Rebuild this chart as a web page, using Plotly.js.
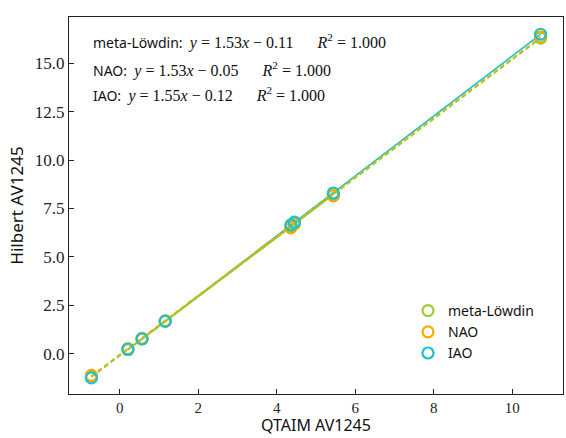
<!DOCTYPE html>
<html><head><meta charset="utf-8">
<script src="https://cdn.plot.ly/plotly-3.0.1.min.js"></script>
<style>html,body{margin:0;padding:0;background:#fff}#chart{width:566px;height:438px}</style>
</head><body><div id="chart"></div>
<script>
// Data
const qtaim = [-0.72, 0.21, 0.57, 1.16, 4.36, 4.45, 5.44, 10.72];
const metaLowdin = [-1.21, 0.22, 0.76, 1.67, 6.55, 6.71, 8.22, 16.30];
const nao        = [-1.12, 0.26, 0.80, 1.70, 6.50, 6.74, 8.15, 16.36];
const iao        = [-1.25, 0.22, 0.77, 1.68, 6.65, 6.80, 8.30, 16.50];
const seriesNames = ['meta-Löwdin', 'NAO', 'IAO'];
const fits = {ml: [1.53, -0.11], nao: [1.53, -0.05], iao: [1.55, -0.12]};
const r2 = ['1.000', '1.000', '1.000'];
const xTicks = [0, 2, 4, 6, 8, 10];
const yTicks = [0, 2.5, 5, 7.5, 10, 12.5, 15];

const cML = '#9acd32', cNAO = '#ffa500', cIAO = '#1cc3c8';
const xMin = Math.min(...qtaim), xMax = Math.max(...qtaim);
const inner = qtaim.slice(1, 7);
function fitLine(f, xs) { return xs.map(x => f[0] * x + f[1]); }

const traces = [
  {x: [qtaim[1], xMax], y: fitLine(fits.iao, [qtaim[1], xMax]), mode: 'lines', line: {color: cIAO, width: 1.6}, showlegend: false, hoverinfo: 'skip'},
  {x: inner, y: metaLowdin.slice(1, 7), mode: 'lines', line: {color: cNAO, width: 1.6}, showlegend: false, hoverinfo: 'skip'},
  {x: inner, y: fitLine(fits.ml, inner), mode: 'lines', line: {color: cML, width: 1.6}, showlegend: false, hoverinfo: 'skip'},
  {x: [xMin, xMax], y: fitLine(fits.nao, [xMin, xMax]), mode: 'lines', line: {color: cNAO, width: 1.6, dash: '5px,3px'}, showlegend: false, hoverinfo: 'skip'},
  {x: [xMin, xMax], y: fitLine(fits.ml, [xMin, xMax]), mode: 'lines', line: {color: cML, width: 1.6, dash: '5px,3px'}, showlegend: false, hoverinfo: 'skip'},
  {x: qtaim, y: metaLowdin, name: seriesNames[0], mode: 'markers', marker: {symbol: 'circle-open', size: 11, color: cML, line: {width: 2.2, color: cML}}},
  {x: qtaim, y: nao, name: seriesNames[1], mode: 'markers', marker: {symbol: 'circle-open', size: 11, color: cNAO, line: {width: 2.2, color: cNAO}}},
  {x: qtaim, y: iao, name: seriesNames[2], mode: 'markers', marker: {symbol: 'circle-open', size: 11, color: cIAO, line: {width: 2.2, color: cIAO}}}
];

const T = 17, B = 44, H = 438 - T - B;
function py(pix) { return 1 - (pix - T) / H; }

function eq(name, f, r) {
  const s = f[1] < 0 ? '−' : '+';
  return name + ':  <span style="font-family:Liberation Serif;font-size:16px">' +
    '<i>y</i> = ' + f[0].toFixed(2) + '<i>x</i> ' + s + ' ' + Math.abs(f[1]).toFixed(2) +
    '      <i>R</i><sup>2</sup> = ' + r + '</span>';
}
const fitKeys = ['ml', 'nao', 'iao'];
const annYs = [42, 69, 95];
const annotations = seriesNames.map((n, i) => ({
  xref: 'paper', yref: 'paper', x: (91 - 69) / 494, y: py(annYs[i]),
  xanchor: 'left', yanchor: 'middle', showarrow: false,
  text: eq(n, fits[fitKeys[i]], r2[i]),
  font: {family: 'Noto Sans, DejaVu Sans, sans-serif', size: 14, color: '#111'}
}));
annotations.push({
  xref: 'paper', yref: 'paper', x: 0.5, y: py(437), xanchor: 'center', yanchor: 'bottom',
  showarrow: false, borderpad: 0, text: 'QTAIM AV1245',
  font: {family: 'Noto Sans, DejaVu Sans, sans-serif', size: 16, color: '#111'}
});

const layout = {
  width: 566, height: 438,
  margin: {l: 69, r: 3, t: T, b: B},
  paper_bgcolor: '#fff', plot_bgcolor: '#fff',
  showlegend: true,
  legend: {x: (408 - 69) / 494, y: py(295), xanchor: 'left', yanchor: 'top', font: {family: 'Noto Sans, DejaVu Sans, sans-serif', size: 14, color: '#111'}, tracegroupgap: 0, itemwidth: 30, bgcolor: 'rgba(0,0,0,0)'},
  xaxis: {
    range: [-1.29, 11.29], tickvals: xTicks, ticktext: xTicks.map(String),
    ticks: 'inside', ticklen: 5, tickcolor: '#222', showline: true, linecolor: '#222', linewidth: 1, mirror: true,
    showgrid: false, zeroline: false, automargin: false,
    tickfont: {family: 'Liberation Serif, serif', size: 15, color: '#222'}
  },
  yaxis: {
    range: [-2.08, 17.39], tickvals: yTicks, ticktext: yTicks.map(v => v.toFixed(1)),
    ticks: 'inside', ticklen: 5, tickcolor: '#222', showline: true, linecolor: '#222', linewidth: 1, mirror: true,
    showgrid: false, zeroline: false,
    tickfont: {family: 'Liberation Serif, serif', size: 17, color: '#222'},
    title: {text: 'Hilbert AV1245', font: {family: 'Noto Sans, DejaVu Sans, sans-serif', size: 17, color: '#111'}, standoff: 6}
  },
  annotations: annotations
};
Plotly.newPlot('chart', traces, layout, {displayModeBar: false, staticPlot: true});
</script></body></html>
